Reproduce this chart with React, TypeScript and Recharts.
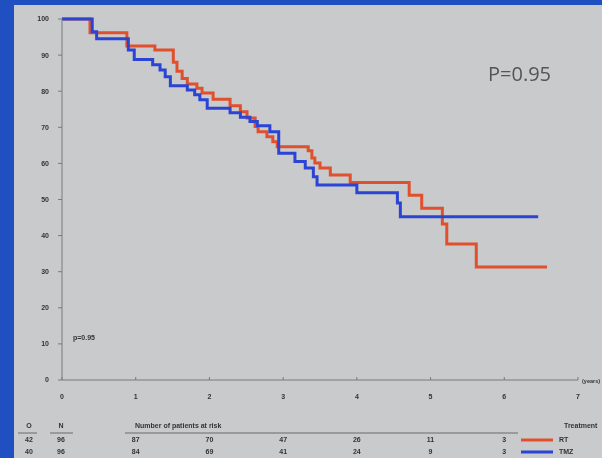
import { LineChart, Line, XAxis, YAxis } from 'recharts';

// survival curves (time in years, % alive)
const rtTime = [0, 0.38, 0.88, 1.26, 1.51, 1.56, 1.63, 1.7, 1.83, 1.9, 2.05, 2.28, 2.42, 2.51, 2.62, 2.66, 2.78, 2.86, 2.92, 3.34, 3.39, 3.43, 3.5, 3.64, 3.91, 4.71, 4.88, 5.16, 5.22, 5.62, 6.58];
const rtSurv = [100, 96.2, 92.5, 91.4, 88, 85.5, 83.5, 82, 80.8, 79.5, 77.8, 76, 74.3, 72.6, 70.2, 68.8, 67.4, 66, 64.6, 63.5, 61.5, 60.1, 58.7, 56.8, 54.7, 51.2, 47.6, 43.2, 37.7, 31.3, 31.3];

const tmzTime = [0, 0.41, 0.47, 0.9, 0.98, 1.23, 1.33, 1.4, 1.47, 1.7, 1.8, 1.87, 1.97, 2.28, 2.42, 2.55, 2.65, 2.82, 2.94, 3.16, 3.3, 3.41, 3.46, 4.0, 4.55, 4.59, 6.46];
const tmzSurv = [100, 96.5, 94.5, 91.4, 88.8, 87.3, 85.9, 84, 81.5, 80.3, 79, 77.6, 75.3, 74, 72.8, 71.6, 70.4, 68.8, 62.8, 60.5, 58.7, 56.3, 54, 51.9, 49, 45.2, 45.2];

const yearTicks = [0, 1, 2, 3, 4, 5, 6, 7];
const pctTicks = [0, 10, 20, 30, 40, 50, 60, 70, 80, 90, 100];

const riskYears = [1, 2, 3, 4, 5, 6];
const rtAtRisk = [87, 70, 47, 26, 11, 3];
const tmzAtRisk = [84, 69, 41, 24, 9, 3];
const observed = [42, 40];
const totals = [96, 96];
const treatments = ['RT', 'TMZ'];

const RED = '#e0502c';
const BLUE = '#2b44d4';
const INK = '#333';

const rt = rtTime.map((t, i) => ({ t, s: rtSurv[i] }));
const tmz = tmzTime.map((t, i) => ({ t, s: tmzSurv[i] }));

// plot area bounds, used to line the at-risk table up with the year ticks
const PLOT_LEFT = 62;
const PLOT_RIGHT = 578;
const xAt = (yr: number) => PLOT_LEFT + (yr / 7) * (PLOT_RIGHT - PLOT_LEFT);

function RiskTable() {
  const rows = [
    { o: observed[0], n: totals[0], vals: rtAtRisk, color: RED, label: treatments[0], y: 442 },
    { o: observed[1], n: totals[1], vals: tmzAtRisk, color: BLUE, label: treatments[1], y: 454 },
  ];
  return (
    <svg width={602} height={458} style={{ position: 'absolute', left: 0, top: 0, pointerEvents: 'none' }}>
      <g fontSize={7} fontWeight={700} fill={INK}>
        <text x={73} y={340}>p=0.95</text>
        <text x={582} y={383} fontSize={5.5}>(years)</text>
        <text x={29} y={428} textAnchor="middle">O</text>
        <text x={61} y={428} textAnchor="middle">N</text>
        <text x={135} y={428}>Number of patients at risk</text>
        <text x={564} y={428}>Treatment</text>
        {rows.map((r) => (
          <g key={r.label}>
            <text x={29} y={r.y} textAnchor="middle">{r.o}</text>
            <text x={61} y={r.y} textAnchor="middle">{r.n}</text>
            {r.vals.map((v, i) => (
              <text key={i} x={xAt(riskYears[i])} y={r.y} textAnchor="middle">{v}</text>
            ))}
            <line x1={521} x2={553} y1={r.y - 2} y2={r.y - 2} stroke={r.color} strokeWidth={3} />
            <text x={559} y={r.y}>{r.label}</text>
          </g>
        ))}
      </g>
      <g stroke="#8a8a8a" strokeWidth={1.5}>
        <line x1={18} x2={37} y1={433} y2={433} />
        <line x1={50} x2={73} y1={433} y2={433} />
        <line x1={125} x2={518} y1={433} y2={433} />
      </g>
      <text x={488} y={81} fontSize={20} fill="#555" fontFamily="'Open Sans', sans-serif">P=0.95</text>
    </svg>
  );
}

export default function App() {
  return (
    <div
      style={{
        position: 'absolute',
        left: 0,
        top: 0,
        width: 602,
        height: 458,
        background: '#1f4fc0',
        overflow: 'hidden',
        fontFamily: "'Liberation Sans', Arial, sans-serif",
        filter: 'blur(0.4px)',
      }}
    >
      <div style={{ position: 'absolute', left: 14, top: 5, right: 0, bottom: 0, background: '#c9cacc' }} />
      <div style={{ position: 'absolute', left: 0, top: 0 }}>
        <LineChart width={602} height={458} margin={{ top: 19, right: 24, bottom: 48, left: 22 }}>
          <XAxis
            type="number"
            dataKey="t"
            domain={[0, 7]}
            ticks={yearTicks}
            interval={0}
            stroke="#7a7a7a"
            tickSize={-3}
            tickMargin={17}
            height={30}
            tick={{ fontSize: 7, fill: INK, fontWeight: 700 }}
          />
          <YAxis
            type="number"
            domain={[0, 100]}
            ticks={pctTicks}
            interval={0}
            stroke="#7a7a7a"
            tickSize={4}
            tickMargin={9}
            width={40}
            tick={{ fontSize: 7, fill: INK, fontWeight: 700 }}
          />
          <Line data={rt} dataKey="s" type="stepAfter" stroke={RED} strokeWidth={3} dot={false} isAnimationActive={false} />
          <Line data={tmz} dataKey="s" type="stepAfter" stroke={BLUE} strokeWidth={3} dot={false} isAnimationActive={false} />
        </LineChart>
      </div>
      <RiskTable />
    </div>
  );
}
